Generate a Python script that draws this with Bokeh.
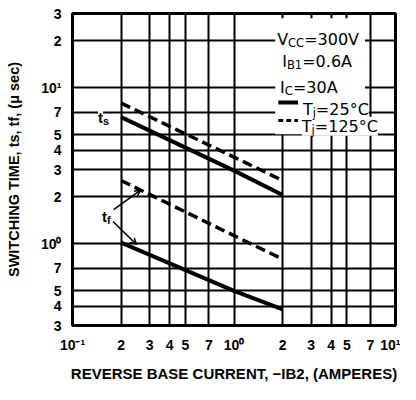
import math, json
from bokeh.plotting import figure
from bokeh.models import FixedTicker, CustomJSTickFormatter, Label, Arrow, OpenHead
from bokeh.embed import file_html
from bokeh.resources import INLINE

# ---- data ----
ib2 = [0.2, 1.0, 2.0]              # reverse base current -IB2 (A)
ts_25 = [6.5, 2.95, 2.06]          # storage time, Tj=25C (us)
ts_125 = [8.0, 3.6, 2.55]          # storage time, Tj=125C (us)
tf_25 = [1.02, 0.5, 0.38]          # fall time, Tj=25C (us)
tf_125 = [2.55, 1.13, 0.80]        # fall time, Tj=125C (us)

x_ticks = [0.1, 0.2, 0.3, 0.4, 0.5, 0.7, 1, 2, 3, 4, 5, 7, 10]
x_tick_labels = ["10⁻¹", "2", "3", "4", "5", "7", "10⁰", "2", "3", "4", "5", "7", "10¹"]
y_ticks = [0.3, 0.4, 0.5, 0.7, 1, 2, 3, 4, 5, 7, 10, 20, 30]
y_tick_labels = ["3", "4", "5", "7", "10⁰", "2", "3", "4", "5", "7", "10¹", "2", "3"]
x_grid = [0.2, 0.3, 0.4, 0.5, 0.7, 1, 2, 3, 4, 5, 7]
y_grid = [0.4, 0.5, 0.7, 1, 2, 3, 4, 5, 7, 10, 20]
legend_sample_x = [1.88, 2.49]

x_title = "REVERSE BASE CURRENT, −IB2, (AMPERES)"
y_title = "SWITCHING TIME, ts, tf, (μ sec)"

# ---- approximate glyph widths (em) for placing sub-scripted pieces ----
LIB_BOLD = {' ': .278, ',': .278, '(': .333, ')': .333, '−': .584, 'A': .722, 'B': .722,
            'C': .722, 'E': .667, 'I': .278, 'S': .667, 'T': .611, 'V': .667,
            'c': .556, 'e': .556, 'f': .333, 's': .556, 't': .333}
for d in "0123456789":
    LIB_BOLD[d] = .556
DEJAVU = {' ': .318, '.': .318, '=': .838, 'A': .684, 'B': .686, 'C': .698, 'I': .295,
          'T': .611, 'V': .684, 'j': .278, '°': .5}
for d in "0123456789":
    DEJAVU[d] = .636


def tw(s, table, size):
    return sum(table.get(c, 0.6) for c in s) * size


p = figure(width=400, height=384, x_axis_type="log", y_axis_type="log",
           x_range=(0.1, 10), y_range=(0.3, 30), output_backend="svg",
           toolbar_location=None, min_border_left=72, min_border_right=5,
           min_border_top=13, min_border_bottom=48)
p.background_fill_color = "white"
p.border_fill_color = "white"
p.outline_line_color = "black"
p.outline_line_width = 3


def fmt(ticks, labels):
    m = {f"{v:g}": lab for v, lab in zip(ticks, labels)}
    return CustomJSTickFormatter(code="const m = %s; const k = String(tick); return (k in m) ? m[k] : '';" % json.dumps(m))


for ax, ticks, labels in ((p.xaxis[0], x_ticks, x_tick_labels), (p.yaxis[0], y_ticks, y_tick_labels)):
    ax.ticker = FixedTicker(ticks=ticks)
    ax.formatter = fmt(ticks, labels)
    ax.axis_line_color = None
    ax.major_tick_line_color = None
    ax.minor_tick_line_color = None
    ax.major_label_text_font = "Liberation Sans"
    ax.major_label_text_font_style = "bold"
    ax.major_label_text_font_size = "14px"
    ax.major_label_text_color = "black"
    ax.major_label_standoff = 5
    ax.axis_label_text_font = "Liberation Sans"
    ax.axis_label_text_font_style = "bold"
    ax.axis_label_text_color = "black"

p.xaxis.axis_label = x_title
p.xaxis.axis_label_text_font_size = "15px"
p.xaxis.axis_label_standoff = 9
p.yaxis.axis_label = y_title
p.yaxis.axis_label_text_font_size = "14.5px"
p.yaxis.axis_label_standoff = 16

p.xgrid.ticker = FixedTicker(ticks=x_grid)
p.ygrid.ticker = FixedTicker(ticks=y_grid)
for g in (p.xgrid[0], p.ygrid[0]):
    g.grid_line_color = "black"
    g.grid_line_width = 2
    g.grid_line_alpha = 1.0

# legend white area
p.quad(left=[1.8], right=[6.47], bottom=[5.05], top=[28], fill_color="white", line_color=None)

# curves
p.line(ib2, ts_25, line_color="black", line_width=4)
p.line(ib2, tf_25, line_color="black", line_width=4)
p.line(ib2, ts_125, line_color="black", line_width=3.5, line_dash="10 5")
p.line(ib2, tf_125, line_color="black", line_width=3.5, line_dash="10 5")

# legend samples
p.line(legend_sample_x, [8.07, 8.07], line_color="black", line_width=4)
p.line(legend_sample_x, [6.18, 6.18], line_color="black", line_width=3, line_dash="5 3")


def rich(x, y, parts, font, size, style, table, bg=False, sub_scale=0.72, sub_drop=0.22):
    cum = 0.0
    for t, s in parts:
        fs = size * (sub_scale if s else 1)
        drop = size * sub_drop if s else 0.0
        lab = Label(x=x, y=y, text=t, x_offset=cum, y_offset=-drop,
                    text_font=font, text_font_size=f"{fs:.1f}px", text_font_style=style,
                    text_align="left", text_baseline="alphabetic", text_color="black")
        if bg:
            lab.background_fill_color = "white"
        p.add_layout(lab)
        cum += tw(t, table, fs)


LEG = dict(font="DejaVu Sans", size=16, style="normal", table=DEJAVU, bg=True)
rich(1.85, 20.5, [("V", False), ("CC", True), ("=300V", False)], **LEG)
rich(1.99, 14.8, [("I", False), ("B1", True), ("=0.6A", False)], **LEG)
rich(1.93, 10.1, [("I", False), ("C", True), ("=30A", False)], **LEG)
rich(2.67, 7.31, [("T", False), ("j", True), ("=25°C", False)], **LEG)
rich(2.63, 5.67, [("T", False), ("j", True), ("=125°C", False)], **LEG)

# curve labels
rich(0.144, 6.46, [("t", False), ("s", True)], "Liberation Sans", 15, "bold", LIB_BOLD, bg=True)
rich(0.1524, 1.49, [("t", False), ("f", True)], "Liberation Sans", 15, "bold", LIB_BOLD)
p.add_layout(Arrow(end=OpenHead(size=6, line_width=1.5, line_color="black"),
                   x_start=0.18, y_start=1.66, x_end=0.264, y_end=2.21,
                   line_width=1.5, line_color="black"))
p.add_layout(Arrow(end=OpenHead(size=6, line_width=1.5, line_color="black"),
                   x_start=0.178, y_start=1.394, x_end=0.249, y_end=0.993,
                   line_width=1.5, line_color="black"))

open("out.html", "w").write(file_html(p, INLINE))
